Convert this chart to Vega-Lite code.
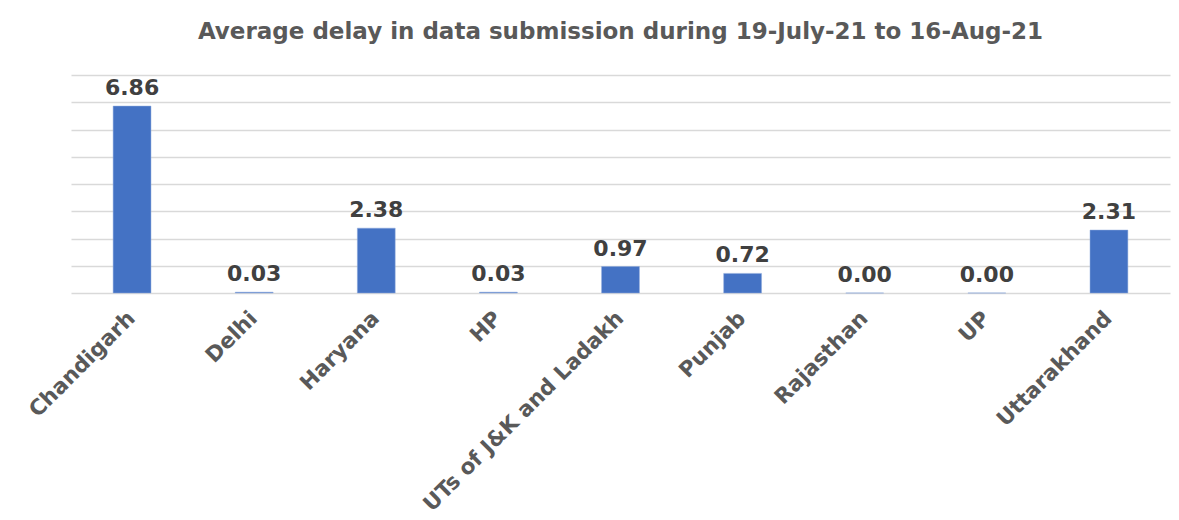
{
  "$schema": "https://vega.github.io/schema/vega-lite/v6.json",
  "autosize": "none",
  "width": 1099,
  "height": 218,
  "padding": {"left": 71, "top": 75, "right": 9, "bottom": 227},
  "background": "white",
  "title": {
    "text": "Average delay in data submission during 19-July-21 to 16-Aug-21",
    "font": "DejaVu Sans",
    "fontSize": 23,
    "fontWeight": "bold",
    "color": "#595959",
    "offset": 31,
    "anchor": "middle"
  },
  "data": {
    "values": [
      {"state": "Chandigarh", "delay": 6.86},
      {"state": "Delhi", "delay": 0.03},
      {"state": "Haryana", "delay": 2.38},
      {"state": "HP", "delay": 0.03},
      {"state": "UTs of J&K and Ladakh", "delay": 0.97},
      {"state": "Punjab", "delay": 0.72},
      {"state": "Rajasthan", "delay": 0.0},
      {"state": "UP", "delay": 0.0},
      {"state": "Uttarakhand", "delay": 2.31}
    ]
  },
  "encoding": {
    "x": {
      "field": "state",
      "type": "nominal",
      "sort": null,
      "scale": {"paddingInner": 0.69, "paddingOuter": 0.345},
      "axis": {
        "title": null,
        "domain": false,
        "ticks": false,
        "labelAngle": -45,
        "labelAlign": "right",
        "labelBaseline": "middle",
        "labelPadding": 22,
        "labelFont": "DejaVu Sans",
        "labelFontWeight": "bold",
        "labelFontSize": 21.5,
        "labelColor": "#595959",
        "labelLimit": 400
      }
    },
    "y": {
      "field": "delay",
      "type": "quantitative",
      "scale": {"domain": [0, 8]},
      "axis": {
        "title": null,
        "labels": false,
        "ticks": false,
        "domain": false,
        "values": [0, 1, 2, 3, 4, 5, 6, 7, 8],
        "grid": true,
        "gridColor": "#d9d9d9",
        "gridWidth": 1.5
      }
    }
  },
  "layer": [
    {"mark": {"type": "bar", "color": "#4472c4", "stroke": "#8faadc", "strokeWidth": 0.5}},
    {
      "mark": {
        "type": "text",
        "baseline": "bottom",
        "dy": -6,
        "font": "DejaVu Sans",
        "fontWeight": "bold",
        "fontSize": 22,
        "color": "#404040"
      },
      "encoding": {"text": {"field": "delay", "type": "quantitative", "format": ".2f"}}
    }
  ],
  "config": {"view": {"stroke": null}}
}
